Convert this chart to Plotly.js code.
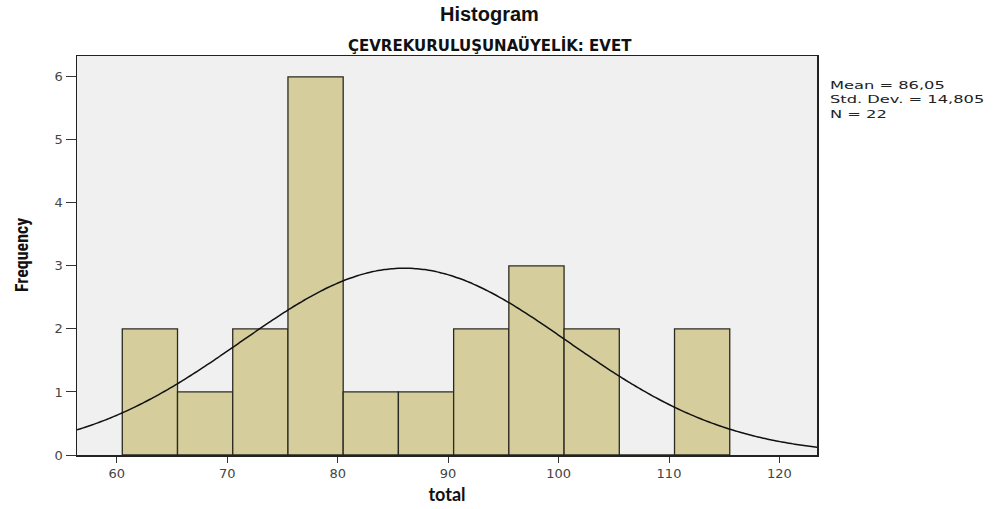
<!DOCTYPE html>
<html>
<head>
<meta charset="utf-8">
<script src="https://cdn.plot.ly/plotly-3.0.1.min.js"></script>
<style>
  html, body { margin: 0; padding: 0; background: #ffffff; }
  #chart { width: 994px; height: 509px; }
  /* widen the summary-statistics block a little */
  #chart g.annotation[data-index="3"] text {
    transform-box: fill-box;
    transform-origin: 0 0;
    transform: scaleX(1.48);
  }
</style>
</head>
<body>
<div id="chart"></div>
<script>
// Histogram of "total" for members of an environmental organisation (EVET)
const binCenters = [63, 68, 73, 78, 83, 88, 93, 98, 103, 108, 113];
const binCounts  = [2, 1, 2, 6, 1, 1, 2, 3, 2, 0, 2];
const binWidth = 5;

const meanValue = 86.05;
const stdDev = 14.805;
const nCases = 22;

const xTicks = [60, 70, 80, 90, 100, 110, 120];
const yTicks = [0, 1, 2, 3, 4, 5, 6];

const xRange = [56.4, 123.4];
const yRange = [0, 6.33];

// Fitted normal curve, scaled to counts per bin
const curveX = [];
const curveY = [];
const steps = 200;
for (let i = 0; i <= steps; i++) {
  const x = xRange[0] + (xRange[1] - xRange[0]) * i / steps;
  const z = (x - meanValue) / stdDev;
  const pdf = Math.exp(-0.5 * z * z) / (stdDev * Math.sqrt(2 * Math.PI));
  curveX.push(x);
  curveY.push(nCases * binWidth * pdf);
}

const bars = {
  type: 'bar',
  x: binCenters,
  y: binCounts,
  width: binWidth,
  marker: { color: '#d5cd9b', line: { color: '#2b2a22', width: 1.3 } },
  hoverinfo: 'x+y'
};

const curve = {
  type: 'scatter',
  mode: 'lines',
  x: curveX,
  y: curveY,
  line: { color: '#111111', width: 1.5, shape: 'spline' },
  hoverinfo: 'skip'
};

const tickFont = { family: 'DejaVu Sans, sans-serif', size: 13, color: '#444444' };

const statsText = [
  'Mean = ' + meanValue.toFixed(2).replace('.', ','),
  'Std. Dev. = ' + stdDev.toFixed(3).replace('.', ','),
  'N = ' + nCases
].join('<br>');

const layout = {
  width: 994,
  height: 509,
  margin: { l: 77, r: 177, t: 56, b: 54 },
  paper_bgcolor: '#ffffff',
  plot_bgcolor: '#f0f0f0',
  showlegend: false,
  bargap: 0,
  xaxis: {
    range: xRange,
    tickvals: xTicks,
    ticktext: xTicks.map(String),
    ticks: 'outside',
    ticklen: 6,
    tickcolor: '#333333',
    tickfont: tickFont,
    showgrid: false,
    zeroline: false,
    showline: true,
    linecolor: '#222222',
    linewidth: 1.5,
    mirror: true,
    title: {
      text: 'total',
      font: { family: 'Lato, Open Sans, sans-serif', size: 18, color: '#111111', weight: 'bold' },
      standoff: 8
    }
  },
  yaxis: {
    range: yRange,
    tickvals: yTicks,
    ticktext: yTicks.map(String),
    ticks: 'outside',
    ticklen: 10,
    tickcolor: '#333333',
    tickfont: tickFont,
    showgrid: false,
    zeroline: false,
    showline: true,
    linecolor: '#222222',
    linewidth: 1.5,
    mirror: true
  },
  annotations: [
    {
      text: '<b>Histogram</b>',
      xref: 'paper', yref: 'paper',
      x: (489 - 77) / 740, y: 1, yshift: 42,
      xanchor: 'center', yanchor: 'middle',
      showarrow: false,
      font: { family: 'Arial, Liberation Sans, sans-serif', size: 20, color: '#111111' }
    },
    {
      text: '<b>ÇEVREKURULUŞUNAÜYELİK: EVET</b>',
      xref: 'paper', yref: 'paper',
      x: (490 - 77) / 740, y: 1, yshift: 11,
      xanchor: 'center', yanchor: 'middle',
      showarrow: false,
      font: { family: 'DejaVu Sans, sans-serif', size: 15, color: '#111111' }
    },
    {
      text: '<b>Frequency</b>',
      xref: 'paper', yref: 'paper',
      x: 0, xshift: -56, y: (455 - 255) / 399,
      xanchor: 'center', yanchor: 'middle',
      textangle: -90,
      showarrow: false,
      font: { family: 'Liberation Sans Narrow, Arial Narrow, Roboto Condensed, sans-serif', size: 18, color: '#111111' }
    },
    {
      text: statsText,
      xref: 'paper', yref: 'paper',
      x: 1, xshift: 11, y: 1, yshift: -21,
      xanchor: 'left', yanchor: 'top',
      align: 'left',
      showarrow: false,
      font: { family: 'DejaVu Sans, sans-serif', size: 11, color: '#222222' }
    }
  ]
};

Plotly.newPlot('chart', [bars, curve], layout, { displayModeBar: false, staticPlot: true });
</script>
</body>
</html>
